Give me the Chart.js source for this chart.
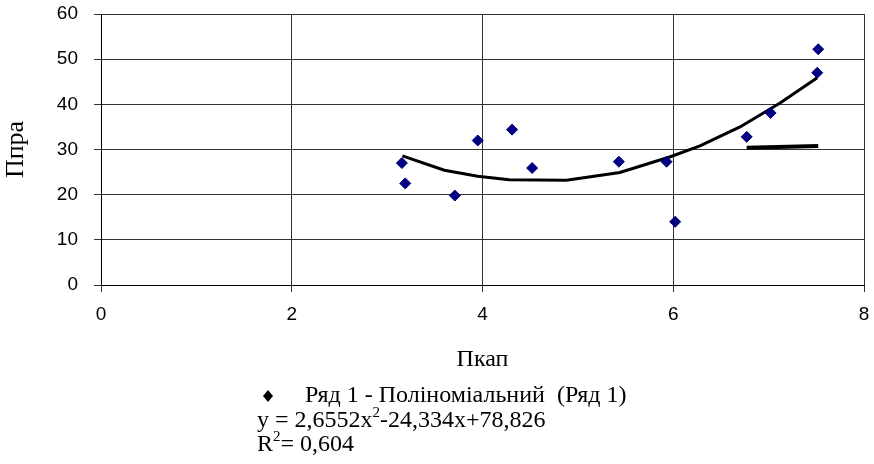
<!DOCTYPE html>
<html>
<head>
<meta charset="utf-8">
<script src="https://cdn.jsdelivr.net/npm/chart.js@4/dist/chart.umd.min.js"></script>
<style>
  html, body { margin: 0; padding: 0; background: #fff; }
  #wrap { width: 874px; height: 464px; }
</style>
</head>
<body>
<div id="wrap"><canvas id="chartPkap" width="874" height="464"></canvas></div>
<script>
// точки "Ряд 1"
const pkap = [3.155, 3.19, 3.71, 3.95, 4.31, 4.52, 5.43, 5.93, 6.02, 6.77, 7.02, 7.51, 7.52];
const ppra = [27.0, 22.5, 19.8, 32.0, 34.4, 25.9, 27.3, 27.3, 14.0, 32.8, 38.1, 47.0, 52.2];

// поліноміальний тренд, як він намальований
const trendX = [3.16, 3.6, 3.95, 4.28, 4.88, 5.44, 5.97, 6.28, 6.7, 7.12, 7.51];
const trendY = [28.6, 25.4, 24.1, 23.3, 23.2, 24.9, 28.4, 30.8, 35.0, 40.3, 45.9];

// короткий відрізок праворуч
const flatX = [6.77, 7.52];
const flatY = [30.4, 30.8];

const xTicks = [0, 2, 4, 6, 8];
const yTicks = [0, 10, 20, 30, 40, 50, 60];

const legendText = 'Ряд 1 - Поліноміальний  (Ряд 1)';
const eqParts = ['y = 2,6552x', '2', '-24,334x+78,826'];
const r2Parts = ['R', '2', '= 0,604'];

const toPoints = (xs, ys) => xs.map((x, i) => ({ x: x, y: ys[i] }));

const SERIF = '"Liberation Serif", "Times New Roman", serif';
const SANS = '"Liberation Sans", Arial, sans-serif';

const legendLines = {
   id: 'legendLines',
   afterDraw: function (chart) {
      const ctx = chart.ctx;
      ctx.save();
      ctx.fillStyle = '#000';
      ctx.textBaseline = 'alphabetic';
      ctx.textAlign = 'left';

      // маркер
      ctx.beginPath();
      ctx.moveTo(268, 390);
      ctx.lineTo(273, 396);
      ctx.lineTo(268, 402);
      ctx.lineTo(263, 396);
      ctx.closePath();
      ctx.fill();

      ctx.font = '24px ' + SERIF;
      ctx.fillText(legendText, 305, 402);

      const withSup = (parts, x, y) => {
         ctx.font = '24px ' + SERIF;
         ctx.fillText(parts[0], x, y);
         x += ctx.measureText(parts[0]).width;
         ctx.font = '15px ' + SERIF;
         ctx.fillText(parts[1], x, y - 10);
         x += ctx.measureText(parts[1]).width;
         ctx.font = '24px ' + SERIF;
         ctx.fillText(parts[2], x, y);
      };
      withSup(eqParts, 257, 427);
      withSup(r2Parts, 257, 451);
      ctx.restore();
   }
};

Chart.defaults.color = '#000';
const ctx = document.getElementById('chartPkap').getContext('2d');
const chartPkap = new Chart(ctx, {
   type: 'scatter',
   data: {
      datasets: [{
         label: 'Ряд 1',
         data: toPoints(pkap, ppra),
         pointStyle: 'rectRot',
         pointRadius: 5.5,
         backgroundColor: '#000080',
         borderColor: '#000080',
         borderWidth: 1,
         order: 1
      }, {
         label: 'Поліноміальний (Ряд 1)',
         data: toPoints(trendX, trendY),
         showLine: true,
         borderColor: '#000',
         borderWidth: 3,
         pointRadius: 0,
         tension: 0,
         order: 2
      }, {
         label: '',
         data: toPoints(flatX, flatY),
         showLine: true,
         borderColor: '#000',
         borderWidth: 4,
         pointRadius: 0,
         order: 2
      }]
   },
   options: {
      responsive: false,
      animation: false,
      layout: {
         padding: { left: 0, right: 10, top: 14, bottom: 0 }
      },
      scales: {
         x: {
            type: 'linear',
            min: 0,
            max: 8,
            afterBuildTicks: s => { s.ticks = xTicks.map(v => ({ value: v })); },
            afterFit: s => {
               s.height = 179;
               s.paddingLeft = 0;
               s.paddingRight = 0;
            },
            grid: { color: '#333', lineWidth: 1, tickLength: 7 },
            border: { color: '#000', width: 1 },
            ticks: { padding: 11, font: { family: SANS, size: 19 } },
            title: {
               display: true,
               text: 'Пкап',
               font: { family: SERIF, size: 24 },
               padding: { top: 0, bottom: 90 }
            }
         },
         y: {
            type: 'linear',
            min: 0,
            max: 60,
            afterBuildTicks: s => { s.ticks = yTicks.map(v => ({ value: v })); },
            afterFit: s => {
               s.width = 101;
               s.paddingTop = 0;
               s.paddingBottom = 0;
            },
            grid: { color: '#333', lineWidth: 1, tickLength: 7 },
            border: { color: '#000', width: 1 },
            ticks: { padding: 16, font: { family: SANS, size: 19 } },
            title: {
               display: true,
               text: 'Ппра',
               font: { family: SERIF, size: 26 },
               padding: { top: 1, bottom: 0 }
            }
         }
      },
      plugins: {
         legend: { display: false },
         tooltip: { enabled: false }
      }
   },
   plugins: [legendLines]
});
</script>
</body>
</html>
